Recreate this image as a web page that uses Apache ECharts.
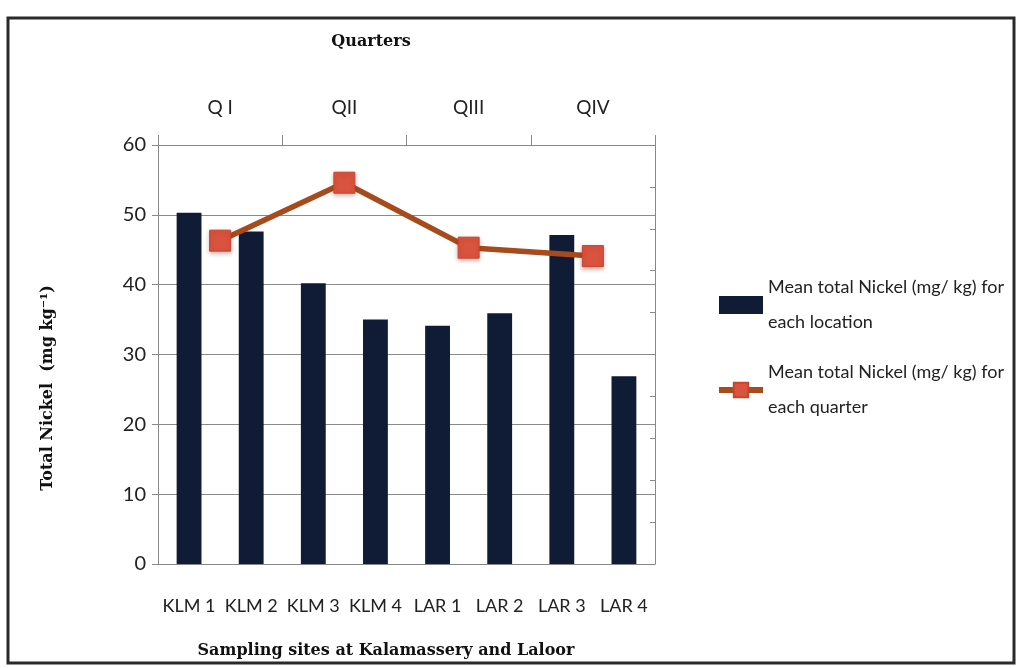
<!DOCTYPE html>
<html>
<head>
<meta charset="utf-8">
<script src="https://cdn.jsdelivr.net/npm/echarts@6/dist/echarts.min.js"></script>
<style>
  html, body { margin: 0; padding: 0; background: #ffffff; }
  #chart { width: 1020px; height: 668px; }
</style>
</head>
<body>
<div id="chart"></div>
<script>
// Sampling sites (bottom axis) and their mean nickel content
const sites = ['KLM 1', 'KLM 2', 'KLM 3', 'KLM 4', 'LAR 1', 'LAR 2', 'LAR 3', 'LAR 4'];
const siteMeans = [50.3, 47.6, 40.2, 35.0, 34.1, 35.9, 47.1, 26.9];

// Quarters (top axis) and their mean nickel content
const quarters = ['Q I', 'QII', 'QIII', 'QIV'];
const quarterMeans = [46.3, 54.6, 45.3, 44.1];

const yTicks = { min: 0, max: 60, interval: 10 };

const labelFont = 'Lato, "Open Sans", sans-serif';
const titleFont = '"DejaVu Serif", "Liberation Serif", serif';

const chart = echarts.init(document.getElementById('chart'));

chart.setOption({
  backgroundColor: '#ffffff',
  animation: false,
  graphic: [
    {
      type: 'rect',
      shape: { x: 8, y: 18, width: 1006, height: 645 },
      style: { fill: 'none', stroke: '#2a2a2a', lineWidth: 3 },
      silent: true
    },
    {
      type: 'text',
      x: 371, y: 42,
      style: {
        text: 'Quarters', font: 'bold 16px ' + titleFont, fill: '#111',
        align: 'center', verticalAlign: 'middle'
      }
    },
    {
      type: 'text',
      x: 386, y: 651,
      style: {
        text: 'Sampling sites at Kalamassery and Laloor', font: 'bold 16px ' + titleFont, fill: '#111',
        align: 'center', verticalAlign: 'middle'
      }
    },
    {
      type: 'text',
      x: 48, y: 388,
      rotation: Math.PI / 2,
      style: {
        text: 'Total Nickel  (mg kg⁻¹)', font: 'bold 16px ' + titleFont, fill: '#111',
        align: 'center', verticalAlign: 'middle'
      }
    }
  ],
  grid: { left: 158, right: 365, top: 145, bottom: 104 },
  legend: {
    orient: 'vertical',
    left: 711,
    top: 265,
    itemGap: 15,
    itemWidth: 44,
    itemHeight: 18,
    textStyle: { fontFamily: labelFont, fontSize: 18, color: '#222', lineHeight: 35 },
    data: [
      { name: 'Mean total Nickel (mg/ kg) for\neach location', icon: 'rect' },
      {
        name: 'Mean total Nickel (mg/ kg) for\neach quarter',
        lineStyle: { width: 6, color: '#a84b1c' }
      }
    ]
  },
  xAxis: [
    {
      type: 'category',
      position: 'bottom',
      data: sites,
      axisLine: { onZero: false, lineStyle: { color: '#888', width: 1 } },
      axisTick: { show: false },
      axisLabel: { interval: 0, fontFamily: labelFont, fontSize: 18, color: '#222', margin: 33 }
    },
    {
      type: 'category',
      position: 'top',
      data: quarters,
      axisLine: { onZero: false, lineStyle: { color: '#888', width: 1 } },
      axisTick: { show: true, inside: false, length: 10, lineStyle: { color: '#888' } },
      axisLabel: { interval: 0, fontFamily: labelFont, fontSize: 19, color: '#222', margin: 28 }
    }
  ],
  yAxis: [
    {
      type: 'value',
      min: yTicks.min, max: yTicks.max, interval: yTicks.interval,
      axisLine: { show: true, lineStyle: { color: '#888' } },
      axisTick: { show: true, length: 6, lineStyle: { color: '#888' } },
      axisLabel: { fontFamily: labelFont, fontSize: 20, color: '#222', margin: 12 },
      splitLine: { show: true, lineStyle: { color: '#8a8a8a', width: 1 } }
    },
    {
      type: 'value',
      position: 'right',
      min: 0, max: 60, interval: 6,
      axisLine: { show: true, lineStyle: { color: '#888' } },
      axisTick: { show: true, inside: true, length: 5, lineStyle: { color: '#888' } },
      axisLabel: { show: false },
      splitLine: { show: false }
    }
  ],
  series: [
    {
      name: 'Mean total Nickel (mg/ kg) for\neach location',
      type: 'bar',
      xAxisIndex: 0,
      yAxisIndex: 0,
      data: siteMeans,
      barWidth: '40%',
      itemStyle: { color: '#101c35' }
    },
    {
      name: 'Mean total Nickel (mg/ kg) for\neach quarter',
      type: 'line',
      xAxisIndex: 1,
      yAxisIndex: 0,
      data: quarterMeans,
      symbol: 'rect',
      symbolSize: 21,
      lineStyle: { color: '#a84b1c', width: 5.5 },
      itemStyle: {
        color: '#d9533f',
        borderColor: '#c9452f',
        borderWidth: 1,
        shadowColor: 'rgba(120,40,20,0.35)',
        shadowBlur: 4,
        shadowOffsetY: 2
      },
      z: 5
    }
  ]
});
</script>
</body>
</html>
